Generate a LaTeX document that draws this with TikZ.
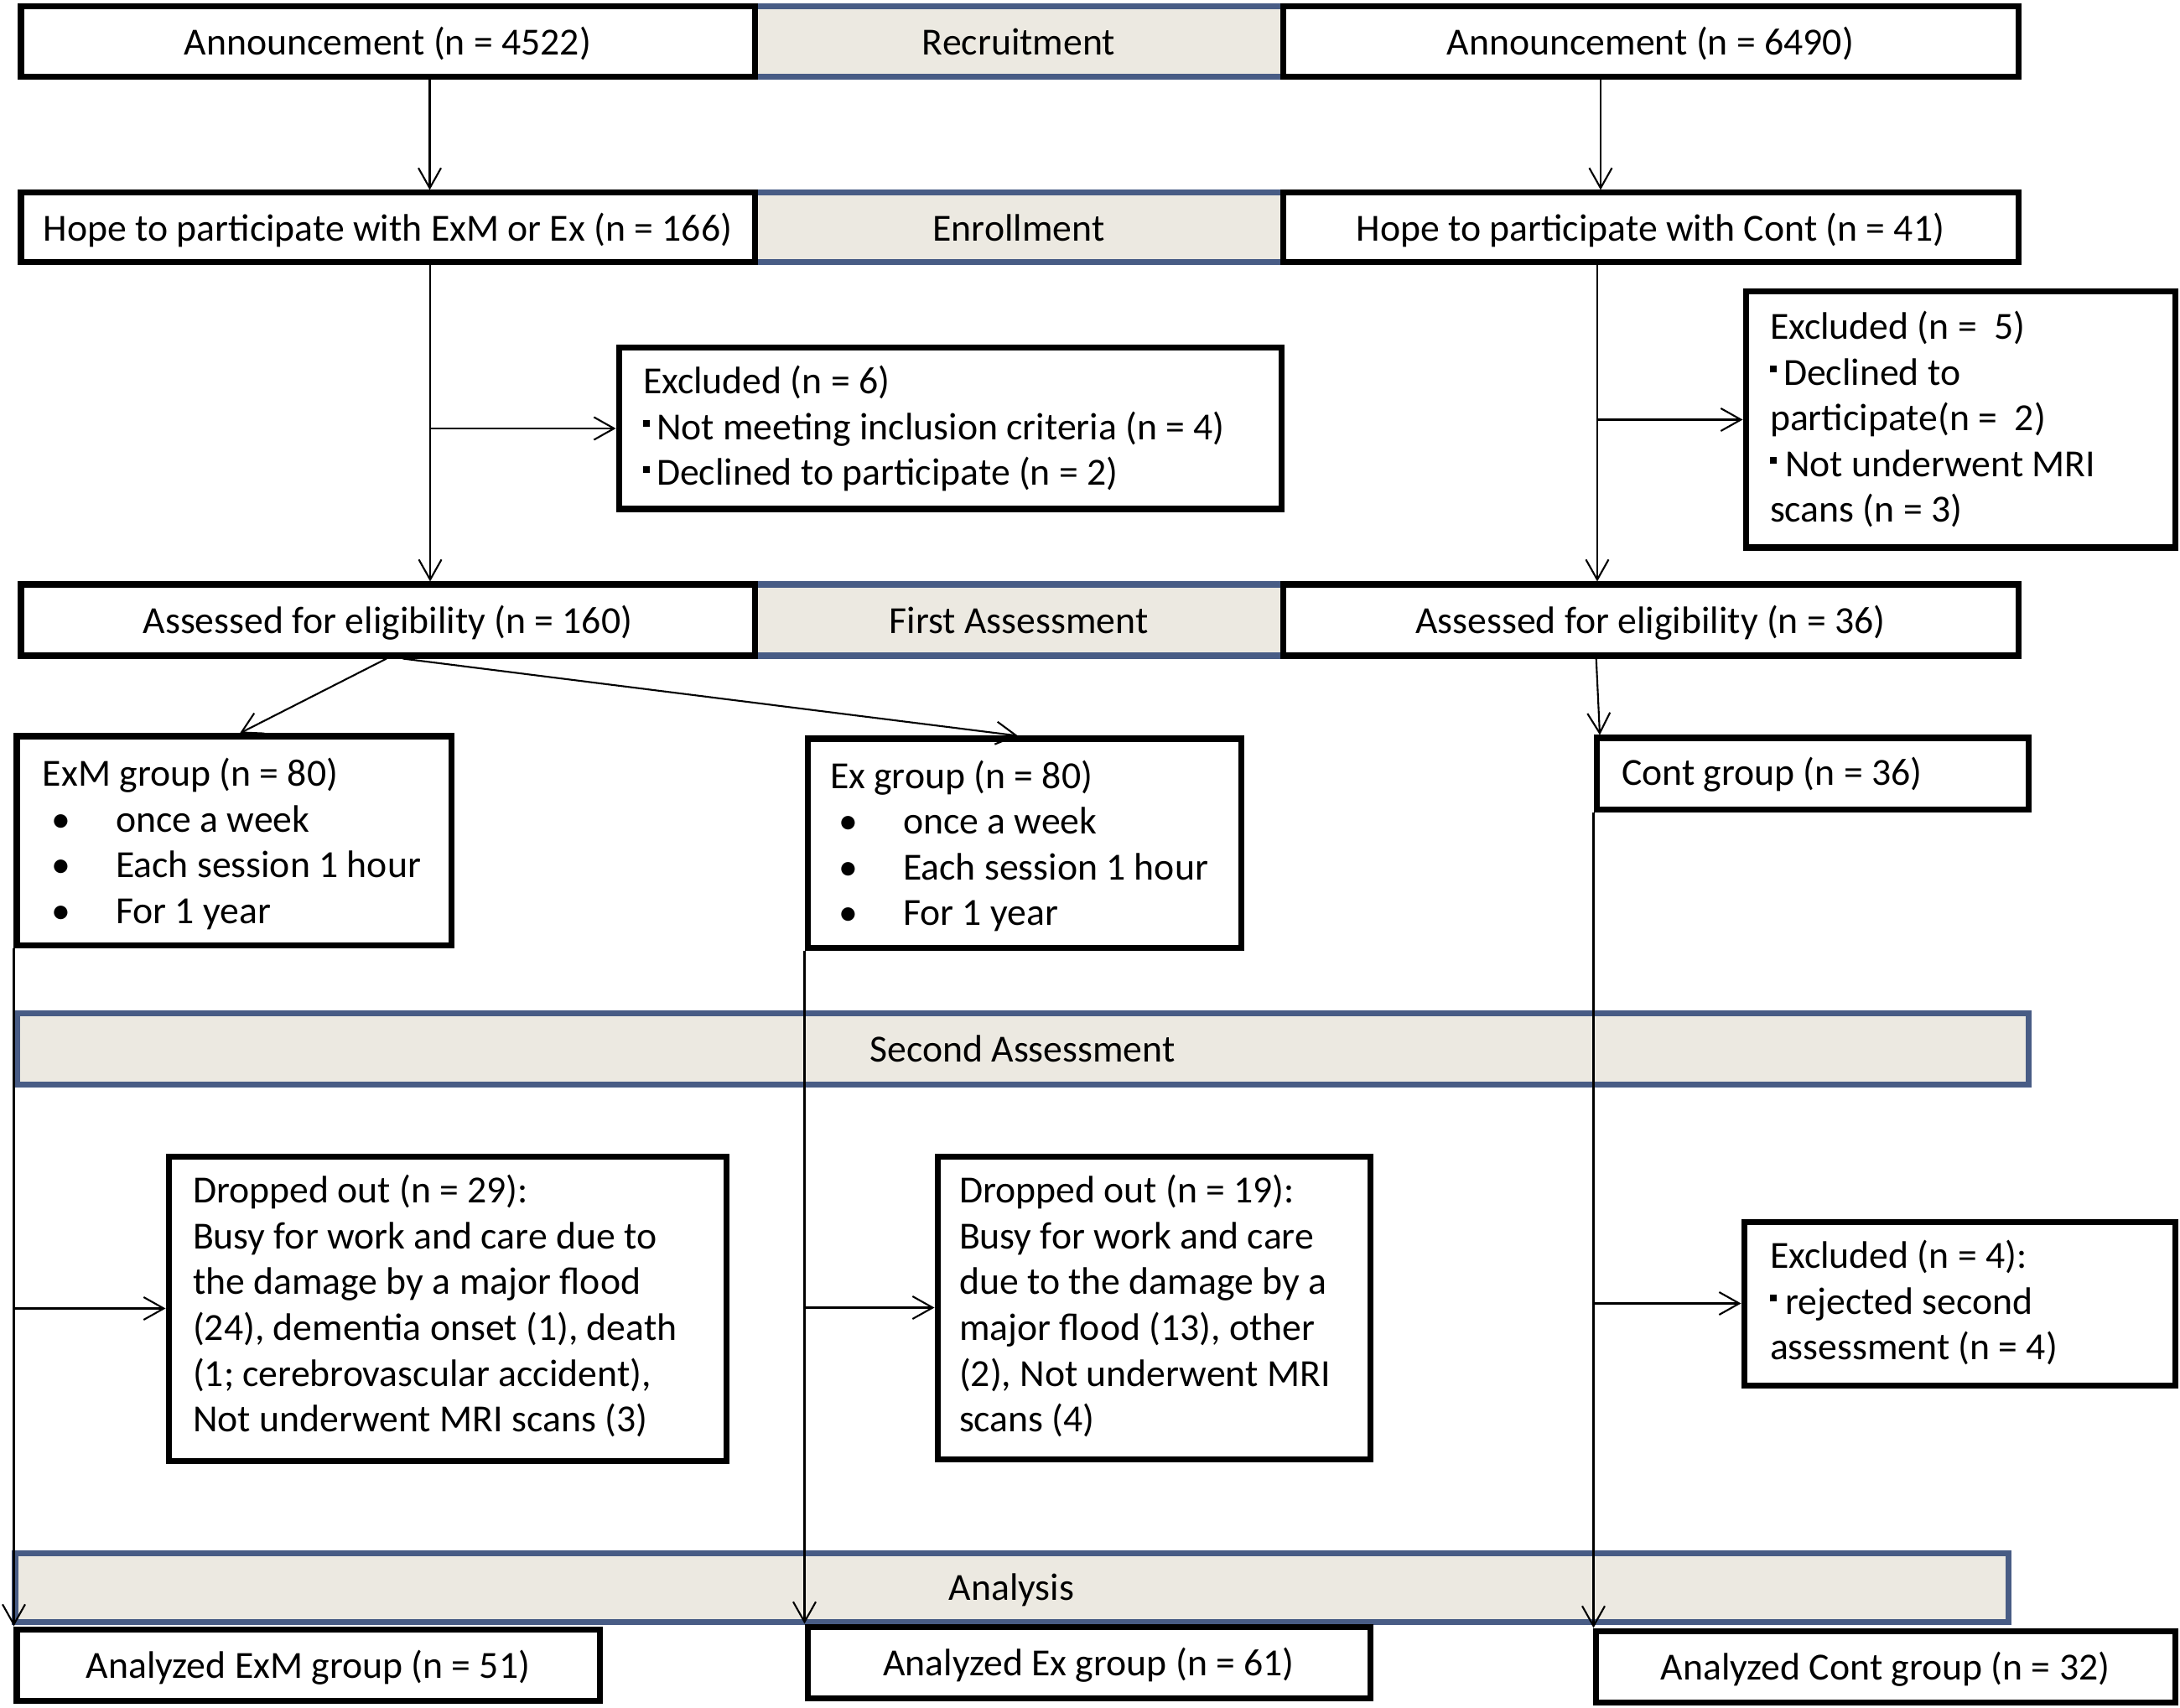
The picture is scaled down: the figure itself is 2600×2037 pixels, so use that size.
\documentclass[tikz,border=0pt]{standalone}
\usepackage{fontspec}
\setmainfont{Carlito}
\usetikzlibrary{arrows.meta}
\definecolor{bandfill}{RGB}{236,233,225}
\definecolor{bandline}{RGB}{72,92,133}
\newcommand\sqbul{\raisebox{0.15cm}{\rule{0.08cm}{0.08cm}}}
\newcommand\bul{\hspace*{0.1cm}\makebox[0.77cm][l]{•}}
\begin{document}
\begin{tikzpicture}[x=0.01cm, y=-0.01cm,
  font=\fontsize{13}{15.5}\selectfont,
  rect/.style n args={4}{at={({(#1+#3)/2},{(#2+#4)/2})}, minimum width={(#3-#1)*0.01cm}, minimum height={(#4-#2)*0.01cm}},
  blk/.style={draw=black, line width=0.07cm, fill=white, inner sep=0pt, outer sep=0.035cm, text height=0.31cm, text depth=0cm},
  band/.style={draw=bandline, fill=bandfill, line width=0.07cm, inner sep=0pt, outer sep=0.035cm, text height=0.31cm, text depth=0cm},
  txt/.style={anchor=north west, align=left, inner sep=0pt, outer sep=0pt},
  conn/.style={line width=0.6pt, -{Straight Barb[length=0.24cm,width=0.27cm]}}
]
\fill[white] (0,0) rectangle (2600,2037);
\useasboundingbox (0,0) rectangle (2600,2037);

% phase bands
\node[band, rect={900}{8}{1530}{92}] (rb) {Recruitment};
\node[band, rect={900}{230}{1530}{313}] (nb) {Enrollment};
\node[band, rect={900}{697}{1530}{782}] (fb) {First Assessment};
\node[band, rect={20}{1208}{2419}{1293}] (sb) {Second Assessment};
\node[band, rect={18}{1852}{2395}{1934}] (ab) {Analysis};

% boxes
\node[blk, rect={25}{8}{900}{92}] (a1) {Announcement (n = 4522)};
\node[blk, rect={1530}{8}{2407}{92}] (a2) {Announcement (n = 6490)};
\node[blk, rect={25}{230}{900}{313}] (h1) {Hope to participate with ExM or Ex (n = 166)};
\node[blk, rect={1530}{230}{2407}{313}] (h2) {Hope to participate with Cont (n = 41)};
\node[blk, rect={738}{415}{1528}{607}] (x1) {};
\node[blk, rect={2082}{348}{2594}{653}] (x2) {};
\node[blk, rect={25}{697}{900}{782}] (e1) {Assessed for eligibility (n = 160)};
\node[blk, rect={1530}{697}{2407}{782}] (e2) {Assessed for eligibility (n = 36)};
\node[blk, rect={20}{878}{538}{1127}] (g1) {};
\node[blk, rect={963}{881}{1480}{1130}] (g2) {};
\node[blk, rect={1904}{880}{2419}{965}] (g3) {};
\node[blk, rect={201}{1379}{866}{1742}] (d1) {};
\node[blk, rect={1118}{1379}{1634}{1740}] (d2) {};
\node[blk, rect={2080}{1457}{2594}{1652}] (x3) {};
\node[blk, rect={20}{1943}{715}{2028}] (f1) {Analyzed ExM group (n = 51)};
\node[blk, rect={963}{1940}{1634}{2025}] (f2) {Analyzed Ex group (n = 61)};
\node[blk, rect={1903}{1945}{2594}{2030}] (f3) {Analyzed Cont group (n = 32)};

% box texts
\node[txt] (x1t) at (767,431.8) {\strut Excluded (n = 6)\\\sqbul\hspace{0.08cm}Not meeting inclusion criteria (n = 4)\\\sqbul\hspace{0.08cm}Declined to participate (n = 2)};
\node[txt] (x2t) at (2111,366.8) {\strut Excluded (n = \ 5)\\\sqbul\hspace{0.08cm}Declined to\\participate(n = \ 2)\\\sqbul\ Not underwent MRI\\scans (n = 3)};
\node[txt] (g1t) at (51,899.8) {\strut ExM group (n = 80)\\\bul once a week\\\bul Each session 1 hour\\\bul For 1 year};
\node[txt] (g2t) at (990,902) {\strut Ex group (n = 80)\\\bul once a week\\\bul Each session 1 hour\\\bul For 1 year};
\node[txt] (g3t) at (1934,898.8) {\strut Cont group (n = 36)};
\node[txt] (d1t) at (230,1396.8) {\strut Dropped out (n = 29):\\Busy for work and care due to\\the damage by a major flood\\(24), dementia onset (1), death\\(1; cerebrovascular accident),\\Not underwent MRI scans (3)};
\node[txt] (d2t) at (1144,1396.8) {\strut Dropped out (n = 19):\\Busy for work and care\\due to the damage by a\\major flood (13), other\\(2), Not underwent MRI\\scans (4)};
\node[txt] (x3t) at (2111,1474.8) {\strut Excluded (n = 4):\\\sqbul\ rejected second\\assessment (n = 4)};

% connectors
\coordinate (j1) at ([xshift=0.505cm]h1.south);
\coordinate (j2) at ([xshift=-0.635cm]h2.south);
\draw[conn] ([xshift=0.5cm]a1.south) -- ([xshift=0.5cm]h1.north);
\draw[conn] ([xshift=-0.595cm]a2.south) -- ([xshift=-0.595cm]h2.north);
\draw[conn] (j1) -- (j1 |- e1.north);
\draw[conn] (j1 |- x1.west) -- (x1.west);
\draw[conn] (j2) -- (j2 |- e2.north);
\draw[conn] (j2 |- x2.west) -- (x2.west);
\draw[conn] ([xshift=-0.015cm]e1.south) -- ([xshift=0.07cm]g1.north);
\draw[conn] ([xshift=0.18cm]e1.south) -- ([xshift=-0.075cm]g2.north);
\draw[conn] ([xshift=3.77cm]e2.south west) -- ([xshift=0.075cm]g3.north west);
\draw[conn] (g1.south west) -- (f1.north west);
\draw[conn] (g1.south west |- d1.west) -- (d1.west);
\draw[conn] (g2.south west) -- (f2.north west);
\draw[conn] (g2.south west |- d2.west) -- (d2.west);
\draw[conn] (g3.south west) -- (g3.south west |- f3.north);
\draw[conn] (g3.south west |- x3.west) -- (x3.west);
\end{tikzpicture}
\end{document}
